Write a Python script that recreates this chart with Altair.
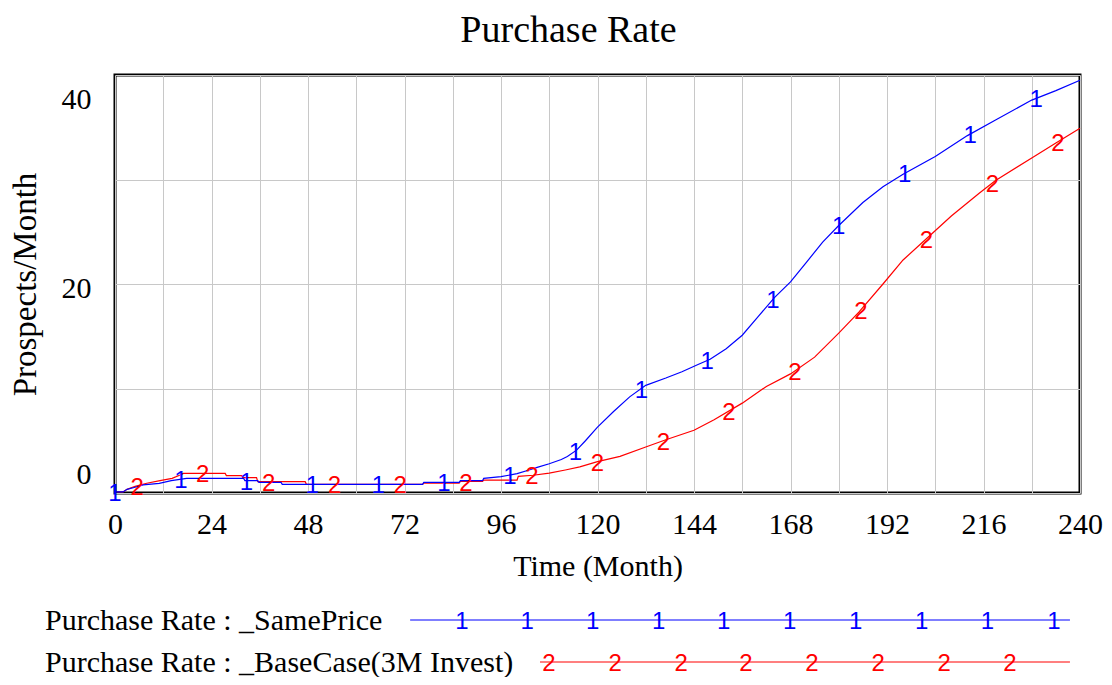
import altair as alt
import pandas as pd
import numpy as np

chart_title = "Purchase Rate"
x_title = "Time (Month)"
y_title = "Prospects/Month"
series_names = ["Purchase Rate : _SamePrice", "Purchase Rate : _BaseCase(3M Invest)"]
series_ids = ["1", "2"]
series_colors = ["#0000ff", "#ff0000"]

# Purchase Rate : _SamePrice (series 1)
same_t = [0, 2, 3, 5, 7, 11, 14, 17.8, 32, 32.3, 35.5, 35.8, 41.3, 41.6, 76.5, 76.8,
          85.6, 85.9, 91.4, 91.7, 96, 100, 103, 105, 108, 111, 112.5, 114.8, 117, 120,
          124, 128, 132, 137, 141, 145, 148, 152, 156, 160, 164, 168, 172, 176, 180,
          186, 191, 196, 204, 212, 219, 228, 234, 240]
same_v = [0.1, 0.1, 0.35, 0.55, 0.77, 0.93, 1.18, 1.4, 1.4, 1.18, 1.18, 1.02, 1.02, 0.83, 0.83, 1.02,
          1.02, 1.18, 1.18, 1.4, 1.56, 1.85, 2.2, 2.45, 2.8, 3.2, 3.5, 4.1, 5.0, 6.3,
          7.8, 9.2, 10.3, 11.0, 11.6, 12.3, 12.8, 13.8, 15.1, 16.9, 18.7, 20.2, 22.1, 24.0, 25.6,
          27.8, 29.3, 30.5, 32.2, 34.2, 35.7, 37.6, 38.5, 39.5]

# Purchase Rate : _BaseCase(3M Invest) (series 2)
base_t = [0, 2, 3, 5, 7.9, 11.2, 14.2, 16.2, 17, 27.4, 27.7, 31.5, 31.8, 35.2, 35.5, 47.3,
          47.6, 76.5, 76.8, 85.6, 85.9, 91.4, 91.7, 100, 100.3, 104, 108, 112, 115.6, 120,
          125.6, 132, 137, 144, 149, 156, 162, 168, 174, 180, 185, 191, 196, 202, 208,
          215, 219, 228.6, 234, 240]
base_v = [0.1, 0.1, 0.35, 0.64, 0.93, 1.18, 1.4, 1.72, 1.88, 1.88, 1.66, 1.66, 1.47, 1.47, 1.08, 1.08,
          0.83, 0.83, 0.95, 0.95, 1.1, 1.1, 1.24, 1.24, 1.6, 1.7, 1.9, 2.2, 2.5, 3.0,
          3.5, 4.4, 5.1, 6.0, 7.0, 8.6, 10.2, 11.4, 13.0, 15.3, 17.3, 20.0, 22.3, 24.4, 26.5,
          28.7, 29.9, 32.2, 33.5, 34.9]

# times at which the series number markers sit on the curves
same_marker_t = [0, 16.4, 32.7, 49.1, 65.5, 81.8, 98.2, 114.5, 130.9, 147.3, 163.6, 180.0, 196.4, 212.7, 229.1]
base_marker_t = [5.5, 21.8, 38.2, 54.6, 70.9, 87.3, 103.7, 120.0, 136.4, 152.7, 169.1, 185.5, 201.8, 218.2, 234.5]

# legend sample lines (in time units of the shared x scale)
legend_line_start = [73.4, 105.7]
legend_line_end = [237.5, 237.5]
legend_same_marker_t = [86.3, 102.5, 118.8, 135.2, 151.4, 167.8, 184.2, 200.6, 217.0, 233.5]
legend_base_marker_t = [107.9, 124.4, 140.8, 156.9, 173.3, 189.8, 206.2, 222.6]

x_ticks = list(range(0, 241, 12))
y_ticks = [0, 10, 20, 30, 40]

W, H = 965, 418
SERIF = "Liberation Serif"
SANS = "Liberation Sans"

color_scale = alt.Scale(domain=series_names, range=series_colors)

x_enc = alt.X(
    "t:Q",
    scale=alt.Scale(domain=[0, 240], nice=False, zero=False),
    axis=alt.Axis(
        values=x_ticks,
        labelExpr="datum.value % 24 == 0 ? datum.label : ''",
        grid=True, gridColor="#c8c8c8", gridWidth=1,
        ticks=False, tickSize=0, domain=False,
        labelFont=SERIF, labelFontSize=30, labelColor="black",
        labelPadding=16, labelBaseline="top", labelAngle=0,
        labelFlush=False, labelOverlap=False,
        title=x_title, titleFont=SERIF, titleFontSize=30, titleFontWeight="normal",
        titleColor="black", titleBaseline="alphabetic", titleY=82,
    ),
)
y_enc = alt.Y(
    "v:Q",
    scale=alt.Scale(domain=[0, 40], nice=False),
    axis=alt.Axis(
        values=y_ticks,
        labelExpr="datum.value % 20 == 0 ? datum.label : ''",
        grid=True, gridColor="#c8c8c8", gridWidth=1,
        ticks=False, tickSize=0, domain=False,
        labelFont=SERIF, labelFontSize=30, labelColor="black",
        labelPadding=24, labelBaseline="middle", labelAlign="right",
        labelFlush=False, labelOverlap=False,
        labelOffset={"condition": [{"test": "datum.value >= 40", "value": 24},
                                   {"test": "datum.value <= 0", "value": -19}],
                     "value": 4},
        title=y_title, titleFont=SERIF, titleFontSize=33, titleFontWeight="normal",
        titleColor="black", titleAngle=270, titleBaseline="middle", titleAlign="center",
        titleX=-90, titleY=H / 2,
    ),
)

same_df = pd.DataFrame({"t": same_t, "v": same_v, "series": series_names[0]})
base_df = pd.DataFrame({"t": base_t, "v": base_v, "series": series_names[1]})

marker_df = pd.concat([
    pd.DataFrame({"t": same_marker_t, "v": np.interp(same_marker_t, same_t, same_v),
                  "series": series_names[0], "label": series_ids[0]}),
    pd.DataFrame({"t": base_marker_t, "v": np.interp(base_marker_t, base_t, base_v),
                  "series": series_names[1], "label": series_ids[1]}),
])

color_enc = alt.Color("series:N", scale=color_scale, legend=None)

base_line = alt.Chart(base_df).mark_line(strokeWidth=1.2).encode(x=x_enc, y=y_enc, color=color_enc)
same_line = alt.Chart(same_df).mark_line(strokeWidth=1.2).encode(x="t:Q", y="v:Q", color=color_enc)

markers = alt.Chart(marker_df).mark_text(font=SANS, fontSize=24, baseline="middle", dy=2).encode(
    x="t:Q", y="v:Q", text="label:N", color=color_enc
)

# ---- title as a text mark above the plot ----
title_df = pd.DataFrame({"label": [chart_title]})
title_mark = alt.Chart(title_df).mark_text(
    font=SERIF, fontSize=38, align="center", baseline="alphabetic", color="black"
).encode(x=alt.value(W / 2 - 29), y=alt.value(-33), text="label:N")

# ---- legend below the plot ----
row_y = [H + 137, H + 179]  # alphabetic baselines of legend rows (view pixels)

legend_layers = []
for i in range(2):
    ldf = pd.DataFrame({"t": [legend_line_start[i]], "t2": [legend_line_end[i]], "series": [series_names[i]]})
    legend_layers.append(
        alt.Chart(ldf).mark_rule(strokeWidth=1.2).encode(
            x="t:Q", x2="t2:Q", y=alt.value(row_y[i] - 10), color=color_enc
        )
    )
    mt = legend_same_marker_t if i == 0 else legend_base_marker_t
    mdf = pd.DataFrame({"t": mt, "series": series_names[i], "label": series_ids[i]})
    legend_layers.append(
        alt.Chart(mdf).mark_text(font=SANS, fontSize=24, baseline="middle", dy=2).encode(
            x="t:Q", y=alt.value(row_y[i] - 10), text="label:N", color=color_enc
        )
    )
    tdf = pd.DataFrame({"label": [series_names[i]]})
    legend_layers.append(
        alt.Chart(tdf).mark_text(font=SERIF, fontSize=30, align="left", baseline="alphabetic", color="black").encode(
            x=alt.value(-70), y=alt.value(row_y[i]), text="label:N"
        )
    )

chart = alt.layer(base_line, same_line, markers, title_mark, *legend_layers).properties(
    width=W,
    height=H,
    background="white",
    autosize=alt.AutoSizeParams(type="none"),
    padding={"left": 107, "top": 67, "right": 24, "bottom": 184},
).configure_view(stroke="black", strokeWidth=3)

chart.save("out.html", embed_options={"renderer": "svg", "actions": False})
